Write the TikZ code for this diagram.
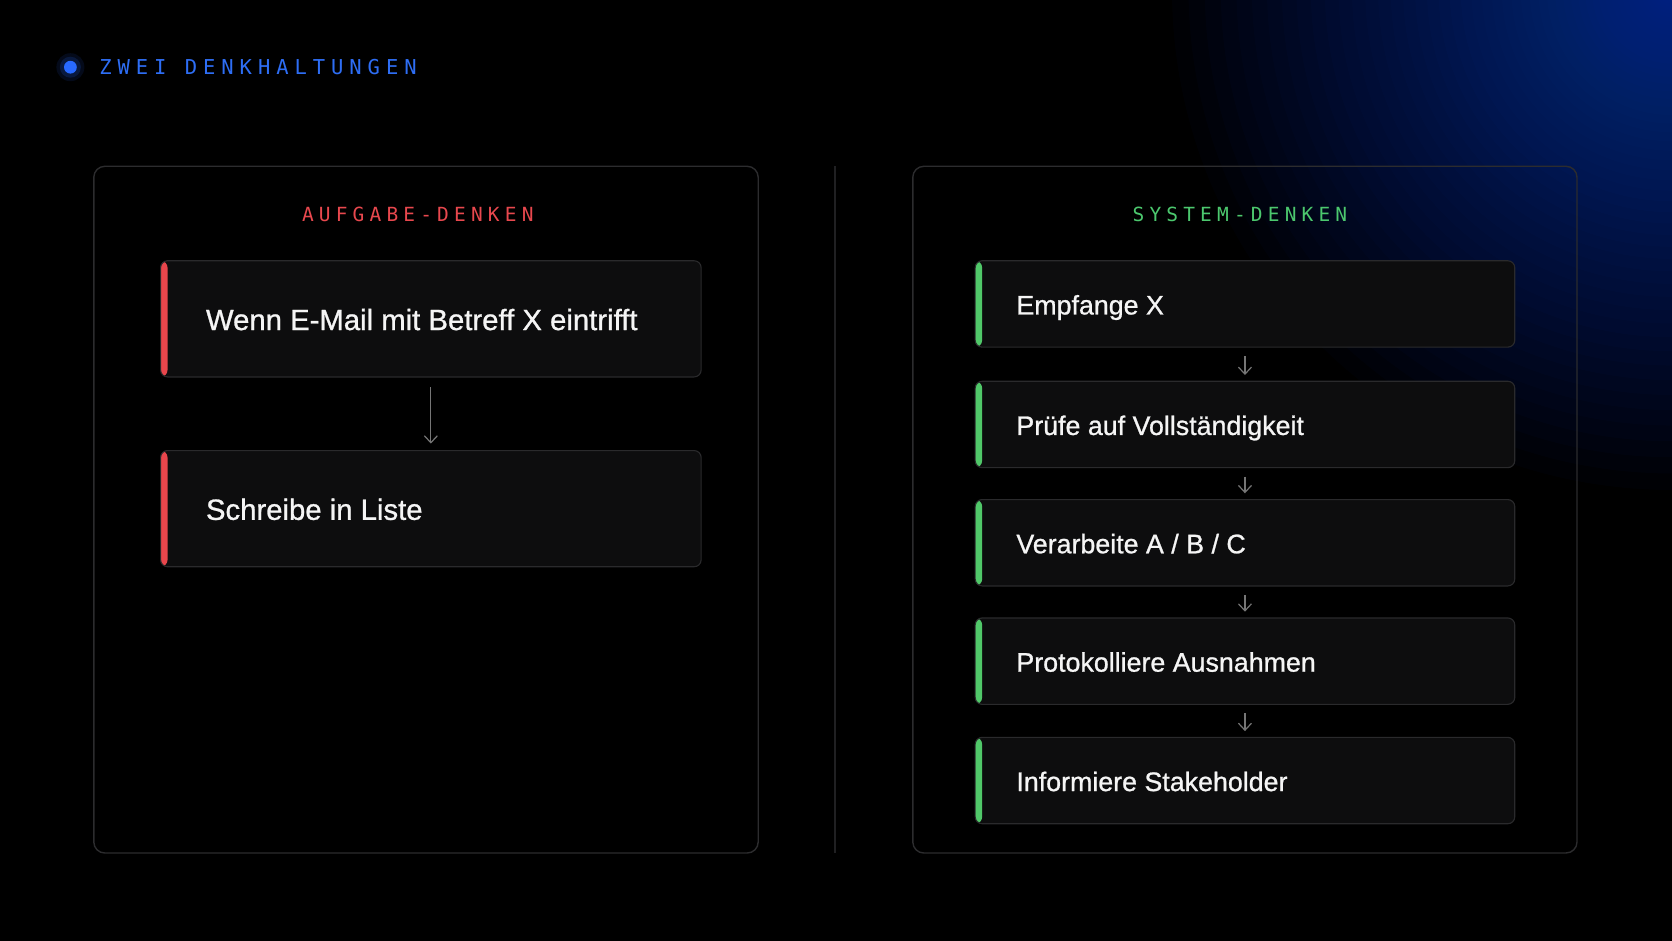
\documentclass[tikz,border=0pt]{standalone}
\usepackage{fontspec}
\setmainfont{Liberation Sans}
\newfontfamily\boxfont{Liberation Sans}[FakeBold=0.9]
\newfontfamily\titlemono{DejaVu Sans Mono}[LetterSpace=29]
\newfontfamily\labelmono{DejaVu Sans Mono}[LetterSpace=26.5]
\usetikzlibrary{arrows.meta}
\definecolor{bgglow}{RGB}{0,62,175}
\definecolor{titleblue}{RGB}{46,110,245}
\definecolor{dotblue}{RGB}{40,105,255}
\definecolor{redlabel}{RGB}{232,72,78}
\definecolor{greenlabel}{RGB}{76,200,110}
\definecolor{redbar}{RGB}{232,70,76}
\definecolor{greenbar}{RGB}{80,200,105}
\definecolor{panelline}{RGB}{44,44,46}
\definecolor{boxline}{RGB}{42,42,44}
\definecolor{boxfill}{RGB}{13,13,14}
\definecolor{arrowgray}{RGB}{118,118,118}
\definecolor{textwhite}{RGB}{245,245,245}
\definecolor{divline}{RGB}{32,32,34}
\tikzset{
  panel/.style={draw=panelline, line width=1.4pt, rounded corners=11pt},
  stepbox/.style={draw=boxline, line width=1.1pt, fill=boxfill, rounded corners=7pt, inner sep=0pt, anchor=north west},
  accentbox/.style={stepbox, path picture={\fill[#1] (path picture bounding box.north west) rectangle ([xshift=7pt]path picture bounding box.south west);}},
  leftbox/.style={accentbox=redbar, minimum width=540.6pt, minimum height=116.2pt},
  rightbox/.style={accentbox=greenbar, minimum width=539.6pt, minimum height=86.4pt},
  boxtext/.style={text=textwhite, inner sep=0pt, anchor=base west},
  bigtext/.style={boxtext, font=\boxfont\fontsize{29.3}{35}\selectfont},
  smalltext/.style={boxtext, font=\boxfont\fontsize{26.8}{32}\selectfont},
  headlabel/.style={inner sep=0pt, anchor=base west, font=\labelmono\fontsize{19.5}{24}\selectfont},
  flowarrow/.style={draw=arrowgray, line width=1.2pt, -{Straight Barb[length=7pt,width=13pt]}}
}
\begin{document}
\begin{tikzpicture}[x=1pt,y=-1pt]
\useasboundingbox (0,0) rectangle (1672,941);
\fill[black] (0,0) rectangle (1672,941);
\begin{scope}
  \clip (0,0) rectangle (1672,941);
  \foreach \i in {1,...,60} {
    \fill[bgglow, opacity=0.03] (1672,-10) circle ({500*(\i/60)*(\i/60)});
  }
\end{scope}

% title
\fill[dotblue, opacity=0.16] (70.4,67.2) circle (10.5);
\fill[dotblue, opacity=0.10] (70.4,67.2) circle (14);
\node[circle, fill=dotblue, minimum size=12.8pt, inner sep=0pt] (dot) at (70.4,67.2) {};
\node[inner sep=0pt, anchor=base west, text=titleblue, font=\titlemono\fontsize{20.5}{25}\selectfont] (title) at (99.2,74.7) {ZWEI DENKHALTUNGEN};

% panels and divider
\draw[panel] (93.8,166.3) rectangle (758.2,853);
\draw[panel] (912.8,166.3) rectangle (1577,853);
\draw[divline, line width=1.2pt] (834.9,166.3) -- (834.9,853);

% left column
\node[headlabel, text=redlabel] (lhead) at (301.8,221.3) {AUFGABE-DENKEN};
\node[leftbox] (l1) at (160,260.2) {};
\node[leftbox] (l2) at (160,450) {};
\node[bigtext] (l1t) at ([xshift=45.8pt,yshift=-11.2pt]l1.west) {Wenn E-Mail mit Betreff X eintrifft};
\node[bigtext] (l2t) at ([xshift=45.8pt,yshift=-11.2pt]l2.west) {Schreibe in Liste};
\draw[flowarrow, shorten <=9.6pt, shorten >=6.4pt] (l1) -- (l2);

% right column
\node[headlabel, text=greenlabel] (rhead) at (1132.4,221.3) {SYSTEM-DENKEN};
\node[rightbox] (r1) at (974.6,260.2) {};
\node[rightbox] (r2) at (974.6,380.7) {};
\node[rightbox] (r3) at (974.6,499.0) {};
\node[rightbox] (r4) at (974.6,617.4) {};
\node[rightbox] (r5) at (974.6,736.8) {};
\node[smalltext] (r1t) at ([xshift=41.6pt,yshift=-10.5pt]r1.west) {Empfange X};
\node[smalltext] (r2t) at ([xshift=41.6pt,yshift=-10.5pt]r2.west) {Prüfe auf Vollständigkeit};
\node[smalltext] (r3t) at ([xshift=41.6pt,yshift=-10.5pt]r3.west) {Verarbeite A / B / C};
\node[smalltext] (r4t) at ([xshift=41.6pt,yshift=-10.5pt]r4.west) {Protokolliere Ausnahmen};
\node[smalltext] (r5t) at ([xshift=41.6pt,yshift=-10.5pt]r5.west) {Informiere Stakeholder};
\draw[flowarrow, shorten <=8.4pt, shorten >=5.7pt] (r1) -- (r2);
\draw[flowarrow, shorten <=8.4pt, shorten >=5.7pt] (r2) -- (r3);
\draw[flowarrow, shorten <=8.4pt, shorten >=5.7pt] (r3) -- (r4);
\draw[flowarrow, shorten <=8.4pt, shorten >=5.7pt] (r4) -- (r5);
\end{tikzpicture}
\end{document}
